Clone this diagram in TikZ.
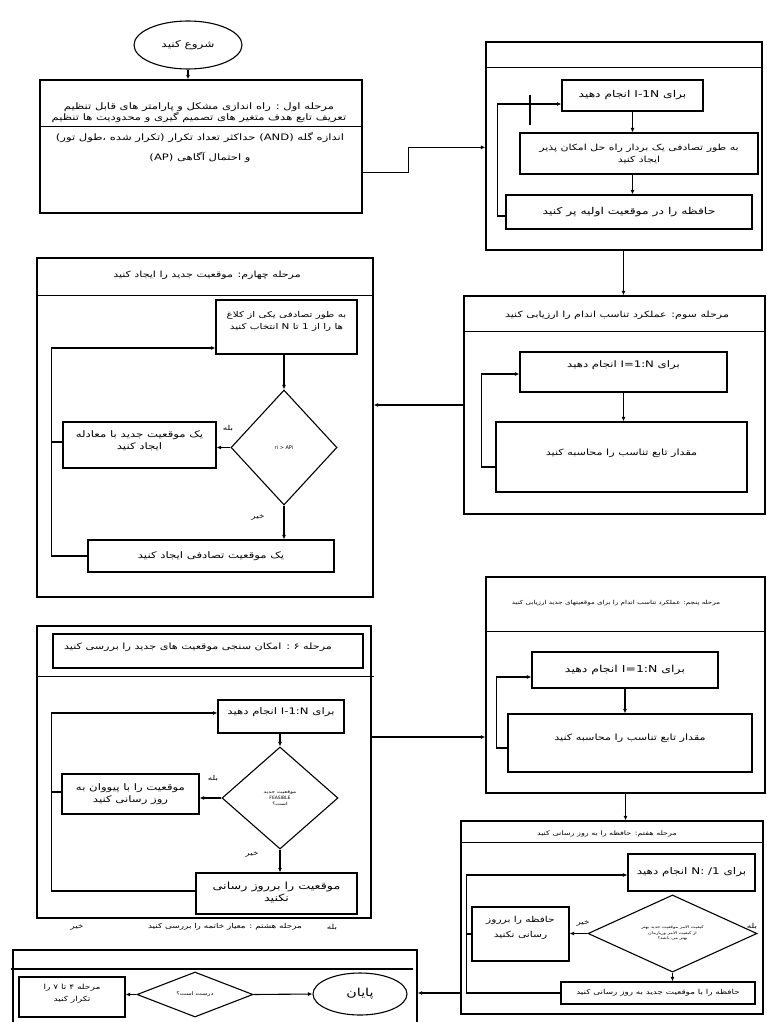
\documentclass[tikz,border=0pt]{standalone}
\usepackage{fontspec}
\usetikzlibrary{shapes.geometric,arrows.meta,calc}
\TeXXeTstate=1
\newfontfamily\arabicfont[Script=Arabic,FakeStretch=1.3]{DejaVu Sans}
\newfontfamily\latinsans{DejaVu Sans}
\newcommand{\fa}[1]{{\arabicfont\beginR #1\endR}}
\newcommand{\la}[1]{\beginL #1\endL{}}
\newcommand{\fsz}[1]{\fontsize{#1}{#1}\selectfont}
\tikzset{
  box/.style={draw, rectangle, line width=1.1pt, inner sep=0pt, align=center, font=\fontsize{9}{12}\selectfont},
  stage/.style={draw, rectangle, line width=1.3pt, inner sep=0pt},
  dia/.style={draw, diamond, line width=1.1pt, inner sep=0pt, align=center, font=\fontsize{4.5}{6}\selectfont\latinsans},
  ell/.style={draw, ellipse, line width=1.1pt, inner sep=0pt, font=\fontsize{9.3}{10}\selectfont},
  arr/.style={line width=1.1pt, -{Latex[length=4.5pt,width=4pt]}},
  ln/.style={line width=1.1pt},
  txt/.style={inner sep=0pt, align=center, font=\fontsize{9}{12}\selectfont},
  hdr/.style={inner sep=0pt, align=center, font=\fontsize{8.5}{9}\selectfont},
  lbl/.style={inner sep=0pt, font=\fontsize{6.8}{8}\selectfont}
}
\begin{document}
\begin{tikzpicture}[x=1pt,y=-1pt]
\useasboundingbox (0,0) rectangle (767,1022);
\fill[white] (0,0) rectangle (767,1022);
\clip (0,0) rectangle (767,1022);

% ---------- start and stage 1
\node[ell, minimum width=108, minimum height=48] (st) at (188,45) {\fa{شروع کنید}};
\node[stage, minimum width=322, minimum height=133] (s1) at (201,146.5) {};
\draw[ln] ([yshift=-47pt]s1.north west) -- ([yshift=-47pt]s1.north east);
\node[txt, font=\fontsize{8.9}{11}\selectfont] (s1a) at (199,112.5) {\fa{مرحله اول : راه اندازی مشکل و پارامتر های قابل تنظیم}\\\fa{تعریف تابع هدف متغیر های تصمیم گیری و محدودیت ها تنظیم}};
\node[txt, font=\fontsize{8.9}{11}\selectfont] (s1b) at (200,138) {\fa{اندازه گله \la{(AND)} حداکثر تعداد تکرار \la{(}تکرار شده ،طول تور\la{)}}};
\node[txt, font=\fontsize{8.9}{11}\selectfont] (s1c) at (200,157) {\fa{و احتمال آگاهی \la{(AP)}}};
\draw[arr] (st.south) -- (st.south |- s1.north);

% ---------- stage 2
\node[stage, minimum width=276, minimum height=208] (s2) at (624,146) {};
\draw[ln] ([yshift=-26pt]s2.north west) -- ([yshift=-26pt]s2.north east);
\node[box, minimum width=141, minimum height=31, font=\fsz{9.4}] (A) at (632.5,95.5) {\fa{برای \la{I-1N} انجام دهید}};
\node[box, minimum width=238, minimum height=41, font=\fontsize{8.4}{12}\selectfont] (B) at (639,153.5) {\fa{به طور تصادفی یک بردار راه حل امکان پذیر}\\\fa{ایجاد کنید}};
\node[box, minimum width=246, minimum height=34, font=\fsz{9.5}] (C) at (629,212) {\fa{حافظه را در موقعیت اولیه پر کنید}};
\draw[arr] (A.south) -- (A.south |- B.north);
\draw[arr] (B.south -| A.south) -- (A.south |- C.north);
\draw[arr] ([yshift=-4pt]C.west) -- ++(-8,0) |- ([yshift=-8.5pt]A.west);
\draw[ln] (530,95) -- (530,125);
\draw[arr] ([yshift=41pt]s1.south east) -- ++(46,0) |- ([yshift=-106pt]s2.north west);

% ---------- stage 3
\node[stage, minimum width=301, minimum height=218] (s3) at (614.5,405) {};
\draw[ln] ([yshift=-36pt]s3.north west) -- ([yshift=-36pt]s3.north east);
\node[hdr] (h3) at (617,315) {\fa{مرحله سوم\la{:} عملکرد تناسب اندام را ارزیابی کنید}};
\node[box, minimum width=207, minimum height=40] (D) at (623.5,372) {};
\node[txt] (Dt) at ([yshift=7pt]D.center) {\fa{برای \la{I=1:N} انجام دهید}};
\node[box, minimum width=251, minimum height=70] (E) at (621.5,457) {};
\node[txt, font=\fsz{8.6}] (Et) at ([yshift=4pt]E.center) {\fa{مقدار تابع تناسب را محاسبه کنید}};
\draw[arr] (D.south) -- (D.south |- E.north);
\draw[arr] ([yshift=-10pt]E.west) -- ++(-14,0) |- ([yshift=-2pt]D.west);
\draw[arr] (s2.south -| D.south) -- (D.south |- s3.north);

% ---------- stage 4
\node[stage, minimum width=336, minimum height=339] (s4) at (205,427.5) {};
\draw[ln] ([yshift=-38pt]s4.north west) -- ([yshift=-38pt]s4.north east);
\node[hdr] (h4) at (207,275) {\fa{مرحله چهارم\la{:} موقعیت جدید را ایجاد کنید}};
\node[box, minimum width=141, minimum height=54] (F) at (286.5,327) {};
\node[txt, font=\fontsize{8}{12}\selectfont] (Ft) at ([yshift=5.5pt]F.center) {\fa{به طور تصادفی یکی از کلاغ}\\\fa{ها را از 1 تا N انتخاب کنید}};
\node[dia, minimum width=106, minimum height=115, font=\fsz{5}\latinsans] (G) at (284,447.5) {ri > APi};
\node[box, minimum width=153, minimum height=46] (H) at (139.5,445) {};
\node[txt] (Ht) at ([yshift=4pt]H.center) {\fa{یک موقعیت جدید با معادله}\\\fa{ایجاد کنید}};
\node[box, minimum width=246, minimum height=32] (I) at (211,556) {\fa{یک موقعیت تصادفی ایجاد کنید}};
\draw[arr] (G.north |- F.south) -- (G.north);
\draw[arr] (G.west) -- (G.west -| H.east);
\draw[arr] (G.south) -- (G.south |- I.north);
\draw[arr] (I.west) -- ++(-36,0) |- ([yshift=-21pt]F.west);
\draw[ln] ([yshift=3pt]H.west) -- ++(-11,0);
\node[lbl] (yes4) at (228,428) {\fa{بله}};
\node[lbl] (no4) at (258,517) {\fa{خیر}};
\draw[arr] (s3.west) -- (s3.west -| s4.east);

% ---------- stage 5
\node[stage, minimum width=279, minimum height=216] (s5) at (625.5,685) {};
\draw[ln] ([yshift=-55pt]s5.north west) -- ([yshift=-55pt]s5.north east);
\node[hdr, font=\fsz{5.5}] (h5) at (616,603) {\fa{مرحله پنجم\la{:} عملکرد تناسب اندام را برای موقعیتهای جدید ارزیابی کنید}};
\node[box, minimum width=186, minimum height=36, font=\fsz{9.6}] (J) at (625,670) {\fa{برای \la{I=1:N} انجام دهید}};
\node[box, minimum width=244, minimum height=58] (K) at (630,743) {};
\node[txt, font=\fsz{8.6}] (Kt) at ([yshift=5pt]K.center) {\fa{مقدار تابع تناسب را محاسبه کنید}};
\draw[arr] (J.south) -- (J.south |- K.north);
\draw[arr] ([yshift=-5pt]K.west) -- ++(-11,0) |- ([yshift=-7pt]J.west);

% ---------- stage 6
\node[stage, minimum width=334, minimum height=292] (s6) at (204,772) {};
\node[box, minimum width=310, minimum height=34] (HB) at (208,651) {};
\node[txt, font=\fsz{8.6}] (HBt) at (198,647) {\fa{مرحله ۶ : امکان سنجی موقعیت های جدید را بررسی کنید}};
\draw[ln, line width=1.3pt] ([yshift=-51pt]s6.north west) -- ([yshift=-51pt,xshift=2pt]s6.north east);
\node[box, minimum width=126, minimum height=33] (L) at (281,716.5) {};
\node[txt] (Lt) at ([yshift=4pt]L.center) {\fa{برای \la{I-1:N} انجام دهید}};
\node[dia, minimum width=116, minimum height=102] (M) at (280,798) {\fa{موقعیت جدید}\\FEASIBLE\\\fa{است؟}};
\node[box, minimum width=137, minimum height=40] (N) at (130.5,794) {};
\node[txt] (Nt) at ([yshift=-0.5pt]N.center) {\fa{موقعیت را با پیووان به}\\\fa{روز رسانی کنید}};
\node[box, minimum width=161, minimum height=41] (O) at (276.5,893.5) {};
\node[txt, font=\fontsize{9.8}{12.5}\selectfont] (Ot) at ([yshift=1pt]O.center) {\fa{موقعیت را برروز رسانی}\\\fa{نکنید}};
\draw[arr] (M.north |- L.south) -- (M.north);
\draw[arr] (M.west) -- (M.west -| N.east);
\draw[arr] (M.south) -- (M.south |- O.north);
\draw[arr] ([yshift=2.5pt]O.west) -- ++(-144,0) |- ([yshift=3.5pt]L.west);
\draw[ln] ([yshift=2pt]N.west) -- ++(-10,0);
\node[lbl] (yes6) at (213,778) {\fa{بله}};
\node[lbl] (no6) at (252,854) {\fa{خیر}};
\draw[arr] ([yshift=35pt]s6.east) -- ([yshift=35pt]s6.east -| s5.west);

% ---------- line under stage 6
\node[lbl] (yes8) at (332,927) {\fa{بله}};
\node[lbl] (t8) at (225,927) {\fa{مرحله هشتم : معیار خاتمه را بررسی کنید}};
\node[lbl] (no8) at (77,927) {\fa{خیر}};

% ---------- stage 7
\node[stage, minimum width=302, minimum height=193] (s7) at (612,917.5) {};
\draw[ln] ([yshift=-22pt]s7.north west) -- ([yshift=-22pt]s7.north east);
\node[hdr, font=\fsz{6.2}] (h7) at (607,834) {\fa{مرحله هفتم\la{:} حافظه را به روز رسانی کنید}};
\node[box, minimum width=127, minimum height=37, font=\fsz{9.2}] (S) at (691.5,872.5) {\fa{برای \la{N: 1/} انجام دهید}};
\node[dia, minimum width=169, minimum height=67, font=\fontsize{3.8}{5.5}\selectfont] (T) at (672.5,933.5) {\fa{کیفیت الامر موقعیت جدید بهتر}\\\fa{از کیفیت الامر وریارمان}\\\fa{بهتر می باشد؟}};
\node[box, minimum width=97, minimum height=54] (U) at (520.5,934) {};
\node[txt, font=\fontsize{8.2}{15}\selectfont] (Ut) at ([yshift=6pt]U.center) {\fa{حافظه را برروز}\\\fa{رسانی نکنید}};
\node[box, minimum width=194, minimum height=22, font=\fsz{6.8}] (V) at (658,993) {\fa{حافظه را با موقعیت جدید به روز رسانی کنید}};
\draw[arr] (T.west) -- (T.west -| U.east);
\draw[arr] (T.south) -- (T.south |- V.north);
\draw[arr] (V.west) -- ++(-94,0) |- ([yshift=-2.5pt]S.west);
\draw[ln] (U.west) -- ++(-5,0);
\node[lbl] (no7) at (583,923) {\fa{خیر}};
\node[lbl] (yes7) at (752,926) {\fa{بله}};
\draw[arr] (s5.south) -- (s5.south |- s7.north);

% ---------- stage 8
\node[stage, minimum width=404, minimum height=90] (s8) at (215,995) {};
\draw[ln] (11,969) -- (413,969);
\node[ell, minimum width=94, minimum height=42, font=\fsz{11}] (P) at (360,994) {\fa{پایان}};
\node[dia, minimum width=116, minimum height=45, font=\fsz{5}] (Q) at (195,994.5) {\fa{درست است؟}};
\node[box, minimum width=106, minimum height=40] (R) at (72,997) {};
\node[txt, font=\fontsize{7}{12}\selectfont] (Rt) at ([yshift=3pt]R.center) {\fa{مرحله ۴ تا ۷ را}\\\fa{تکرار کنید}};
\draw[arr] (Q.east) -- (P.west);
\draw[arr] (Q.west) -- (Q.west -| R.east);
\draw[arr] (V.west -| s7.west) -- (V.west -| s8.east);
\end{tikzpicture}
\end{document}
